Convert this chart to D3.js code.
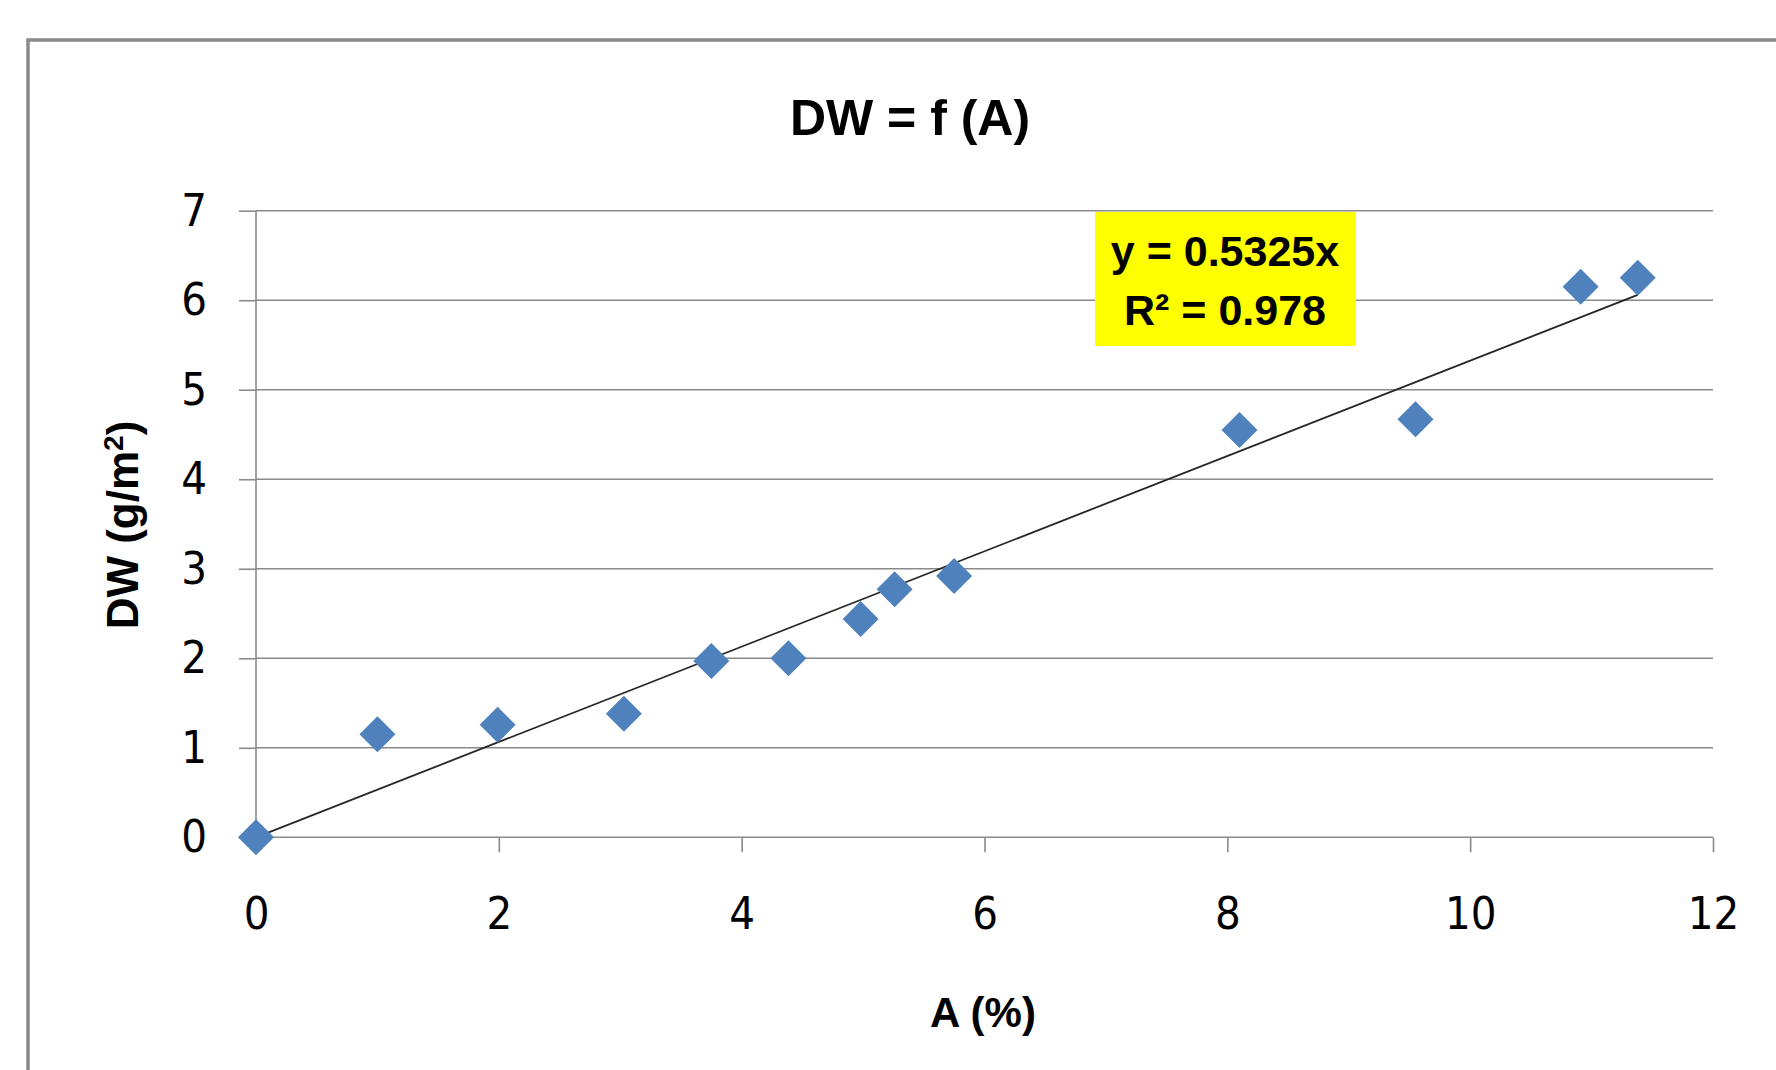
<!DOCTYPE html>
<html>
<head>
<meta charset="utf-8">
<script src="https://cdn.jsdelivr.net/npm/d3@7"></script>
<style>
  body { margin: 0; background: #fff; }
  .tick text { font-family: "Liberation Sans Narrow", "DejaVu Sans Condensed", "Liberation Sans", sans-serif; }
</style>
</head>
<body>
<div id="chart"></div>
<script>
// values
var aValues = [0, 1.0, 1.99, 3.03, 3.75, 4.385, 4.98, 5.26, 5.75, 8.1, 9.55, 10.91, 11.38];
var dwValues = [0, 1.15, 1.257, 1.38, 1.97, 2.0, 2.44, 2.77, 2.92, 4.55, 4.67, 6.15, 6.25];
var xTicks = [0, 2, 4, 6, 8, 10, 12];
var yTicks = [0, 1, 2, 3, 4, 5, 6, 7];
var slope = 0.5325;
var r2 = 0.978;

var svgWidth = 1776;
var svgHeight = 1070;

var margin = {
    top: 210.7,
    right: 63,
    bottom: 232.7,
    left: 256
};

var width = svgWidth - margin.left - margin.right;
var height = svgHeight - margin.top - margin.bottom;

var data = aValues.map(function(a, i) {
    return { a: a, dw: dwValues[i] };
});

var svg = d3.select("#chart")
    .append("svg")
    .attr("width", svgWidth)
    .attr("height", svgHeight);

// outer chart frame (runs off the right and bottom edges)
svg.append("rect")
    .attr("x", 28)
    .attr("y", 40)
    .attr("width", 1800)
    .attr("height", 1100)
    .attr("fill", "#fff")
    .attr("stroke", "#8a8a8a")
    .attr("stroke-width", 3.5);

var chartGroup = svg.append("g")
    .attr("transform", `translate(${margin.left}, ${margin.top})`);

var xLinearScale = d3.scaleLinear().domain([0, 12]).range([0, width]);
var yLinearScale = d3.scaleLinear().domain([0, 7]).range([height, 0]);

// gridlines
chartGroup.append("g")
    .selectAll("line")
    .data(yTicks)
    .enter()
    .append("line")
    .attr("x1", 0)
    .attr("x2", width)
    .attr("y1", d => yLinearScale(d))
    .attr("y2", d => yLinearScale(d))
    .attr("stroke", "#8a8a8a")
    .attr("stroke-width", 1.6);

var leftAxis = d3.axisLeft(yLinearScale)
    .tickValues(yTicks)
    .tickFormat(d3.format("d"))
    .tickSize(17)
    .tickPadding(32);
var bottomAxis = d3.axisBottom(xLinearScale)
    .tickValues(xTicks)
    .tickFormat(d3.format("d"))
    .tickSize(15)
    .tickPadding(45);

var yAxis = chartGroup.append("g").call(leftAxis);
var xAxis = chartGroup.append("g")
    .attr("transform", `translate(0, ${height})`)
    .call(bottomAxis);

[xAxis, yAxis].forEach(function(ax) {
    ax.select(".domain").remove();
    ax.selectAll(".tick line").attr("stroke", "#8a8a8a").attr("stroke-width", 1.6);
    ax.selectAll(".tick text").attr("fill", "#000").style("font-size", "45px");
});

// y axis line
chartGroup.append("line")
    .attr("x1", 0).attr("x2", 0)
    .attr("y1", 0).attr("y2", height)
    .attr("stroke", "#8a8a8a")
    .attr("stroke-width", 1.6);

// linear trendline through origin
var xMax = d3.max(aValues);
chartGroup.append("line")
    .attr("x1", xLinearScale(0))
    .attr("y1", yLinearScale(0))
    .attr("x2", xLinearScale(xMax))
    .attr("y2", yLinearScale(slope * xMax))
    .attr("stroke", "#262626")
    .attr("stroke-width", 1.8);

// diamonds
var r = 18;
chartGroup.selectAll("path.point")
    .data(data)
    .enter()
    .append("path")
    .attr("class", "point")
    .attr("d", `M0,${-r}L${r},0L0,${r}L${-r},0Z`)
    .attr("transform", d => `translate(${xLinearScale(d.a)}, ${yLinearScale(d.dw)})`)
    .attr("fill", "#4F81BD");

// equation box
svg.append("rect")
    .attr("x", 1095)
    .attr("y", 212)
    .attr("width", 261)
    .attr("height", 134)
    .attr("fill", "#FFFF00");

var eq = svg.append("text")
    .attr("x", 1225)
    .attr("text-anchor", "middle")
    .style("font-family", "'Liberation Sans', Arial, sans-serif")
    .style("font-weight", "bold")
    .style("font-size", "43px")
    .attr("fill", "#000");
eq.append("tspan").attr("x", 1225).attr("y", 266).text("y = " + slope + "x");
eq.append("tspan").attr("x", 1225).attr("y", 325).text("R\u00B2 = " + r2);

// title
svg.append("text")
    .attr("x", 910)
    .attr("y", 135)
    .attr("text-anchor", "middle")
    .style("font-family", "'Liberation Sans', Arial, sans-serif")
    .style("font-weight", "bold")
    .style("font-size", "50px")
    .text("DW = f (A)");

// x axis title
svg.append("text")
    .attr("x", 983)
    .attr("y", 1027)
    .attr("text-anchor", "middle")
    .style("font-family", "'Liberation Sans', Arial, sans-serif")
    .style("font-weight", "bold")
    .style("font-size", "42px")
    .text("A (%)");

// y axis title
var yTitle = svg.append("text")
    .attr("transform", "translate(138, 525) rotate(-90)")
    .attr("text-anchor", "middle")
    .style("font-family", "'Liberation Sans', Arial, sans-serif")
    .style("font-weight", "bold")
    .style("font-size", "44px");
yTitle.append("tspan").text("DW (g/m");
yTitle.append("tspan").attr("baseline-shift", "super").style("font-size", "28px").text("2");
yTitle.append("tspan").text(")");
</script>
</body>
</html>
